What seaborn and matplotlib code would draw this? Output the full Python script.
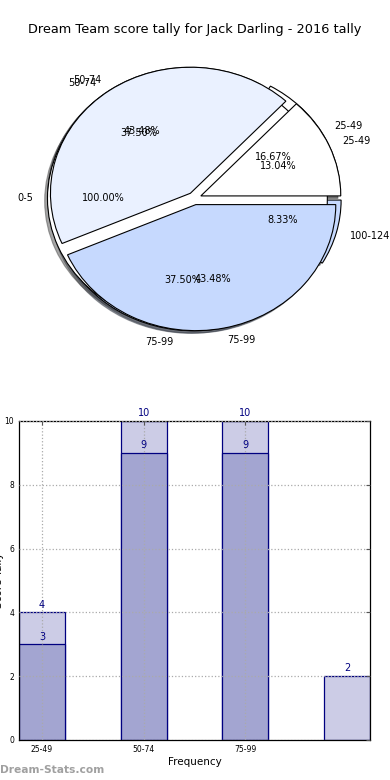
import numpy as np
import pandas as pd
import seaborn as sns
import matplotlib
matplotlib.use("Agg")
import matplotlib.pyplot as plt

# pie data (three pies drawn on the same axes)
pie_a_labels = ['25-49', '50-74', '75-99', '100-124']
pie_a_counts = [4, 9, 9, 2]
pie_c_labels = ['0-5']
pie_c_counts = [1]
pie_b_labels = ['25-49', '50-74', '75-99']
pie_b_counts = [3, 10, 10]

# bar data
bar_bins = ['25-49', '50-74', '75-99', '100-124']
light_counts = [4, 10, 10, 2]
dark_bins = ['25-49', '50-74', '75-99']
dark_counts = [3, 9, 9]
tick_labels = ['25-49', '50-74', '75-99']

sns.set_style("white")
plt.rcParams['font.family'] = ['DejaVu Sans']
plt.rcParams['text.color'] = 'black'
plt.rcParams['axes.labelcolor'] = 'black'
plt.rcParams['xtick.color'] = 'black'
plt.rcParams['ytick.color'] = 'black'

fig = plt.figure(figsize=(3.9, 7.8), dpi=100)
fig.text(0.5, 1 - 30 / 780, 'Dream Team score tally for Jack Darling - 2016 tally',
         ha='center', va='center', fontsize=9.3)

# ---- pie ----
ax1 = fig.add_axes([0.05, 0.5436, 0.897, 0.404])
wp = {'edgecolor': 'black', 'linewidth': 0.8}
shad = {'ox': -0.0144, 'oy': -0.0144}
ax1.pie(pie_a_counts, labels=pie_a_labels, autopct='%1.2f%%', explode=[0.05] * 4,
        colors=['white', '#eaf1ff', '#c6d9fe', '#c6d9fe'], shadow=shad,
        startangle=0, wedgeprops=wp, textprops={'fontsize': 7})
ax1.pie(pie_c_counts, labels=pie_c_labels, autopct='%1.2f%%', explode=[0.05],
        colors=['white'], shadow=shad, startangle=0, wedgeprops=wp,
        textprops={'fontsize': 7})
ax1.pie(pie_b_counts, labels=pie_b_labels, autopct='%1.2f%%', explode=[0.05] * 3,
        colors=['white', '#eaf1ff', '#c6d9fe'], shadow=shad,
        startangle=0, wedgeprops=wp, textprops={'fontsize': 7})
ax1.set_aspect('auto')
ax1.set_xlim(-1.25, 1.25)
ax1.set_ylim(-1.25, 1.25)
ax1.axis('off')

# ---- bars ----
ax2 = fig.add_axes([0.0487, 0.0513, 0.9, 0.409])
sns.barplot(x=bar_bins, y=light_counts, order=bar_bins, color='#cccce6',
            edgecolor='#000080', linewidth=0.9, width=0.45, saturation=1,
            errorbar=None, ax=ax2)
sns.barplot(x=dark_bins, y=dark_counts, order=bar_bins, color='#a3a5d1',
            edgecolor='#000080', linewidth=0.9, width=0.45, saturation=1,
            errorbar=None, ax=ax2)
for cont in ax2.containers:
    ax2.bar_label(cont, padding=2, color='#000080', fontsize=7)

ax2.set_xlim(-0.225, 3.225)
ax2.set_ylim(0, 10)
ax2.set_xticks([0, 1, 2])
ax2.set_xticklabels(tick_labels)
ax2.set_yticks([0, 2, 4, 6, 8, 10])
ax2.tick_params(direction='in', top=True, right=True, labelsize=5.5, length=3,
                color='#555555')
ax2.set_axisbelow(False)
ax2.grid(True, linestyle=':', color='#aaaaaa', linewidth=0.9)
for s in ax2.spines.values():
    s.set_color('black')
    s.set_linewidth(0.9)
ax2.set_xlabel('Frequency', fontsize=7.5, labelpad=2)
ax2.set_ylabel('Score Tally', fontsize=7.5)
ax2.yaxis.set_label_coords(-0.043, 0.5)

fig.text(0.0, 1 - 770 / 780, 'Dream-Stats.com', ha='left', va='center',
         fontsize=7.7, fontweight='bold', color='#a0a0a0')

fig.savefig('out.png', dpi=100)
